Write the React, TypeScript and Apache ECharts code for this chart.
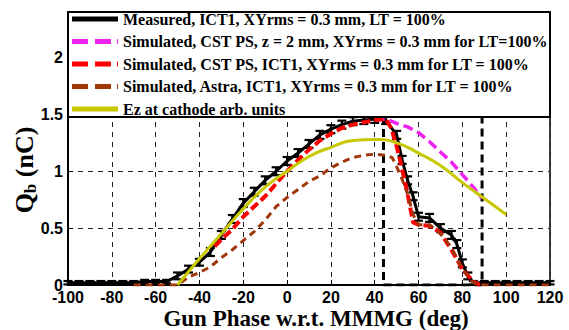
import React, { useEffect, useRef } from "react";
import * as echarts from "echarts";

const xTicks = [-100, -80, -60, -40, -20, 0, 20, 40, 60, 80, 100, 120];
const yTicks = [0, 0.5, 1, 1.5, 2];

const measuredPhase = [-100, -95, -90, -85, -80, -75, -70, -65, -60, -55, -50, -45, -40, -35, -30, -25, -20, -15, -10, -5, 0, 5, 10, 15, 20, 25, 30, 35, 40, 45, 50, 52.5, 55, 57.5, 60, 65, 70, 75, 77.5, 80, 82.5, 85, 90, 95, 100, 105, 110, 115, 120];
const measuredQ = [0.02, 0.02, 0.02, 0.02, 0.02, 0.02, 0.02, 0.03, 0.03, 0.03, 0.08, 0.14, 0.2, 0.29, 0.44, 0.58, 0.72, 0.82, 0.92, 1.0, 1.09, 1.16, 1.24, 1.32, 1.37, 1.41, 1.44, 1.45, 1.46, 1.45, 1.32, 1.1, 0.92, 0.78, 0.6, 0.59, 0.5, 0.44, 0.36, 0.19, 0.08, 0.02, 0.02, 0.02, 0.02, 0.02, 0.02, 0.02, 0.02];
const measuredErr = [0.015, 0.015, 0.015, 0.015, 0.015, 0.015, 0.015, 0.015, 0.015, 0.015, 0.03, 0.03, 0.03, 0.035, 0.035, 0.035, 0.035, 0.035, 0.035, 0.035, 0.035, 0.035, 0.035, 0.035, 0.035, 0.035, 0.035, 0.035, 0.035, 0.035, 0.035, 0.035, 0.035, 0.035, 0.035, 0.035, 0.035, 0.035, 0.035, 0.035, 0.03, 0.015, 0.015, 0.015, 0.015, 0.015, 0.015, 0.015, 0.015];

const cstZ2Phase = [40, 45, 50, 55, 60, 65, 70, 75, 80, 85, 89];
const cstZ2Q = [1.45, 1.46, 1.42, 1.39, 1.34, 1.26, 1.17, 1.08, 0.97, 0.86, 0.76];

const cstIctPhase = [-33, -30, -25, -20, -15, -10, -5, 0, 5, 10, 15, 20, 25, 30, 35, 40, 45, 47.5, 50, 52.5, 55, 57.5, 60, 65, 70, 75, 80, 85, 88];
const cstIctQ = [0.34, 0.4, 0.49, 0.6, 0.69, 0.78, 0.89, 1.0, 1.1, 1.19, 1.27, 1.33, 1.38, 1.41, 1.43, 1.45, 1.46, 1.38, 1.22, 1.02, 0.8, 0.55, 0.53, 0.52, 0.46, 0.31, 0.14, 0.03, 0.0];

const astraPhase = [-70, -65, -60, -55, -50, -45, -40, -35, -30, -25, -20, -15, -10, -5, 0, 5, 10, 15, 20, 25, 30, 35, 40, 45, 48, 50, 52.5, 55, 57.5, 60, 65, 70, 75, 80, 85, 90, 95, 100, 105, 110, 115, 120];
const astraQ = [0, 0, 0, 0, 0, 0.07, 0.11, 0.16, 0.24, 0.31, 0.39, 0.47, 0.57, 0.69, 0.77, 0.84, 0.91, 0.96, 1.03, 1.08, 1.12, 1.14, 1.15, 1.14, 1.12, 1.04, 0.93, 0.8, 0.62, 0.53, 0.53, 0.45, 0.33, 0.14, 0.02, 0, 0, 0, 0, 0, 0, 0];

const ezPhase = [-50, -40, -30, -20, -10, 0, 10, 20, 30, 40, 50, 60, 70, 80, 90, 100];
const ezQ = [0, 0.23, 0.45, 0.67, 0.86, 1.0, 1.13, 1.21, 1.27, 1.28, 1.25, 1.16, 1.05, 0.9, 0.76, 0.62];

const windowPhase = [44, 44, 89, 89];
const windowQ = [2.4, 0, 0, 2.4];

const names = [
  "Measured, ICT1, XYrms = 0.3 mm, LT = 100%",
  "Simulated, CST PS, z = 2 mm, XYrms = 0.3 mm for LT=100%",
  "Simulated, CST PS, ICT1, XYrms = 0.3 mm for LT = 100%",
  "Simulated, Astra, ICT1, XYrms = 0.3 mm for LT = 100%",
  "Ez at cathode arb. units",
];
const xTitle = "Gun Phase w.r.t. MMMG (deg)";

const zip = (xs: number[], ys: number[]) => xs.map((x, i) => [x, ys[i]]);

const solidIcon = "path://M0,0h46v5h-46z";
const dashIcon = "path://M0,0.5h16v4h-16zM23,0.5h16v4h-16zM45,0.5h1v4h-1z";

export default function App() {
  const ref = useRef<HTMLDivElement>(null);
  useEffect(() => {
    if (!ref.current) return;
    const chart = echarts.init(ref.current, undefined, { renderer: "svg" });
    const serif = "Liberation Serif, Times New Roman, serif";
    const sans = "Liberation Sans, Arial, sans-serif";
    chart.setOption({
      animation: false,
      backgroundColor: "#fff",
      grid: {
        left: 68, right: 19, top: 12, bottom: 45, show: true, borderColor: "#000", borderWidth: 1.5,
        outerBoundsMode: "none", containLabel: false,
      },
      xAxis: {
        type: "value",
        min: -100,
        max: 120,
        interval: 20,
        axisLine: { onZero: false, lineStyle: { color: "#000", width: 2 } },
        axisTick: { inside: true, length: 5, lineStyle: { color: "#000" } },
        axisLabel: {
          color: "#000", fontFamily: sans, fontWeight: "bold", fontSize: 16, margin: 4, lineHeight: 16,
          formatter: (v: number) => (xTicks.includes(v) ? String(v) : ""),
        },
        splitLine: { show: true, lineStyle: { color: "#222", type: [5, 5], width: 1 } },
      },
      yAxis: {
        type: "value",
        min: 0,
        max: 2.4,
        interval: 0.5,
        axisLine: { onZero: false, lineStyle: { color: "#000", width: 2 } },
        axisTick: { inside: true, length: 5, lineStyle: { color: "#000" } },
        axisLabel: {
          color: "#000", fontFamily: sans, fontWeight: "bold", fontSize: 16, margin: 5,
          formatter: (v: number) => (yTicks.includes(v) ? String(v) : ""),
        },
        splitLine: { show: true, lineStyle: { color: "#222", type: [5, 5], width: 1 } },
      },
      legend: {
        orient: "vertical",
        left: 72,
        top: 11,
        padding: 0,
        itemWidth: 46,
        itemHeight: 5,
        itemGap: 6.5,
        symbolKeepAspect: false,
        z: 20,
        selectedMode: false,
        textStyle: { fontFamily: serif, fontWeight: "bold", fontSize: 16, color: "#000", lineHeight: 15.5 },
        data: [
          { name: names[0], icon: solidIcon },
          { name: names[1], icon: dashIcon },
          { name: names[2], icon: dashIcon },
          { name: names[3], icon: dashIcon },
          { name: names[4], icon: solidIcon },
        ],
      },
      graphic: [
        { type: "rect", z: 10, shape: { x: 68, y: 12, width: 482, height: 105 }, style: { fill: "#fff", stroke: "#000", lineWidth: 2 } },
        {
          type: "text", z: 10, x: 24, y: 170, rotation: Math.PI / 2,
          style: {
            text: "{q|Q}{s|b}{q| (nC)}",
            align: "center", verticalAlign: "middle", fill: "#000",
            rich: {
              q: { fontFamily: serif, fontWeight: "bold", fontSize: 26, fill: "#000" },
              s: { fontFamily: serif, fontWeight: "bold", fontSize: 17, fill: "#000", padding: [12, 0, 0, 0] },
            },
          },
        },
        {
          type: "text", z: 10, x: 316, y: 318,
          style: {
            text: xTitle, align: "center", verticalAlign: "middle", fill: "#000",
            fontFamily: serif, fontWeight: "bold", fontSize: 23, lineHeight: 22,
          },
        },
      ],
      series: [
        {
          name: names[0], type: "line", data: zip(measuredPhase, measuredQ), symbol: "none",
          lineStyle: { color: "#000", width: 3 }, itemStyle: { color: "#000" }, z: 2,
        },
        {
          name: "errbars", type: "custom", z: 3,
          data: measuredPhase.map((x, i) => [x, measuredQ[i], measuredErr[i]]),
          renderItem: (_p: any, api: any) => {
            const x = api.value(0), y = api.value(1), e = api.value(2);
            const lo = api.coord([x, Math.max(0, y - e)]);
            const hi = api.coord([x, y + e]);
            const w = 4.5;
            const st = { stroke: "#000", lineWidth: 2.2 };
            return {
              type: "group",
              children: [
                { type: "line", shape: { x1: lo[0], y1: lo[1], x2: hi[0], y2: hi[1] }, style: st },
                { type: "line", shape: { x1: lo[0] - w, y1: lo[1], x2: lo[0] + w, y2: lo[1] }, style: st },
                { type: "line", shape: { x1: hi[0] - w, y1: hi[1], x2: hi[0] + w, y2: hi[1] }, style: st },
              ],
            };
          },
        },
        {
          name: "window", type: "line", data: zip(windowPhase, windowQ), symbol: "none", z: 3,
          lineStyle: { color: "#000", width: 3, type: [8, 5] },
        },
        {
          name: names[1], type: "line", data: zip(cstZ2Phase, cstZ2Q), symbol: "none", z: 4,
          lineStyle: { color: "#ee22ee", width: 3.5, type: [10, 5] }, itemStyle: { color: "#ee22ee" },
        },
        {
          name: names[2], type: "line", data: zip(cstIctPhase, cstIctQ), symbol: "none", z: 5,
          lineStyle: { color: "#ff0000", width: 4, type: [9, 4] }, itemStyle: { color: "#ff0000" },
        },
        {
          name: names[3], type: "line", data: zip(astraPhase, astraQ), symbol: "none", z: 6,
          lineStyle: { color: "#a0360a", width: 3, type: [7, 5] }, itemStyle: { color: "#a0360a" },
        },
        {
          name: names[4], type: "line", data: zip(ezPhase, ezQ), symbol: "none", smooth: true, z: 7,
          lineStyle: { color: "#c8c800", width: 3 }, itemStyle: { color: "#c8c800" },
        },
      ],
    });
    return () => chart.dispose();
  }, []);
  return <div ref={ref} style={{ width: 569, height: 330, position: "absolute", left: 0, top: 0 }} />;
}
